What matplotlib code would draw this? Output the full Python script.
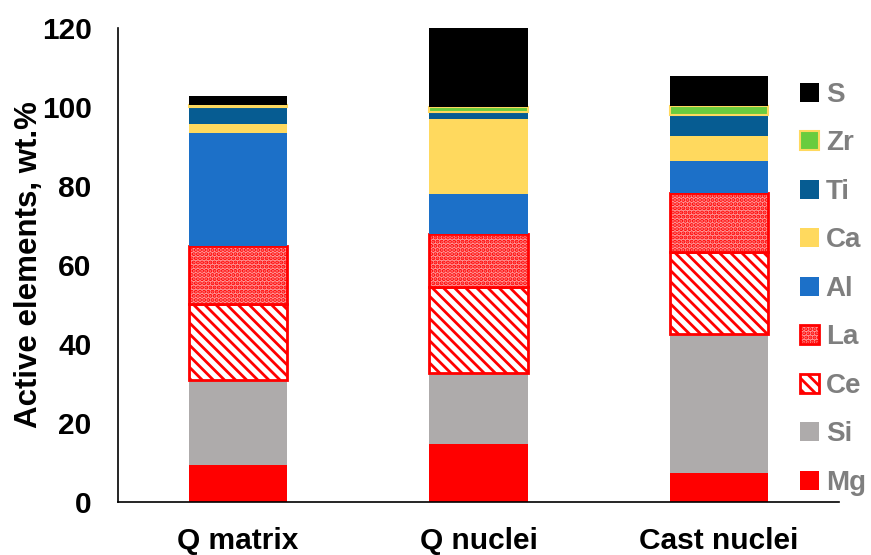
import numpy as np
import matplotlib.pyplot as plt
from matplotlib.patches import Patch

plt.rcParams['font.family'] = ['Liberation Sans', 'DejaVu Sans']
plt.rcParams['hatch.linewidth'] = 2.0

samples = ['Q matrix', 'Q nuclei', 'Cast nuclei']
elements = ['Mg', 'Si', 'Ce', 'La', 'Al', 'Ca', 'Ti', 'Zr', 'S']

# wt.% of each element per sample
mg = [9.4, 14.7, 7.3]
si = [21.5, 18.0, 35.2]
ce = [19.2, 21.7, 20.8]
la = [14.7, 13.4, 14.9]
al = [28.6, 10.2, 8.1]
ca = [2.3, 19.0, 6.4]
ti = [4.4, 1.7, 5.3]
zr = [0.3, 1.3, 2.3]
s = [2.4, 22.0, 7.5]
values = [mg, si, ce, la, al, ca, ti, zr, s]

styles = {
    'Mg': dict(facecolor='#FF0000', edgecolor='#FF0000', linewidth=0),
    'Si': dict(facecolor='#AEABAB', edgecolor='#AEABAB', linewidth=0),
    'Ce': dict(facecolor='white', edgecolor='#FF0000', hatch='\\\\\\', linewidth=2),
    'La': dict(facecolor='#FF9A9A', edgecolor='#FF0000', hatch='....', linewidth=2),
    'Al': dict(facecolor='#1C70C8', edgecolor='#1C70C8', linewidth=0),
    'Ca': dict(facecolor='#FFD95E', edgecolor='#FFD95E', linewidth=0),
    'Ti': dict(facecolor='#065C92', edgecolor='#065C92', linewidth=0),
    'Zr': dict(facecolor='#6ACC3E', edgecolor='#FFD95E', linewidth=1.5),
    'S': dict(facecolor='black', edgecolor='black', linewidth=0),
}

fig = plt.figure(figsize=(8.71, 5.55), dpi=100)
ax = fig.add_axes([118 / 871, 53 / 555, 721 / 871, 474 / 555])

x = np.arange(len(samples))
bottom = np.zeros(len(samples))
for name, vals in zip(elements, values):
    ax.bar(x, vals, 0.41, bottom=bottom, label=name, **styles[name])
    bottom += np.array(vals)

ax.set_xlim(-0.5, 2.5)
ax.set_ylim(0, 120)
ax.set_yticks(np.arange(0, 121, 20))
ax.set_xticks(x)
ax.set_xticklabels(samples)
ax.tick_params(axis='both', length=0, labelsize=21.5)
ax.tick_params(axis='y', pad=19)
ax.tick_params(axis='x', pad=18)
for lbl in ax.get_xticklabels() + ax.get_yticklabels():
    lbl.set_fontweight('bold')
ax.set_ylabel('Active elements, wt.%', fontsize=22.5, fontweight='bold')
ax.yaxis.set_label_coords(-0.102, 0.5)
for side in ['top', 'right']:
    ax.spines[side].set_visible(False)
ax.spines['left'].set_linewidth(1.2)
ax.spines['bottom'].set_linewidth(1.2)

handles = [Patch(label=n, **styles[n]) for n in elements[::-1]]
leg = fig.legend(handles=handles, loc='upper left', bbox_to_anchor=(786 / 871, 1 - 68 / 555),
                 frameon=False, prop={'size': 20, 'weight': 'bold'},
                 handlelength=0.68, handleheight=0.68, handletextpad=0.25, labelspacing=0.81,
                 borderpad=0)
for t in leg.get_texts():
    t.set_color('#7F7F7F')

fig.savefig('out.png', dpi=100)
